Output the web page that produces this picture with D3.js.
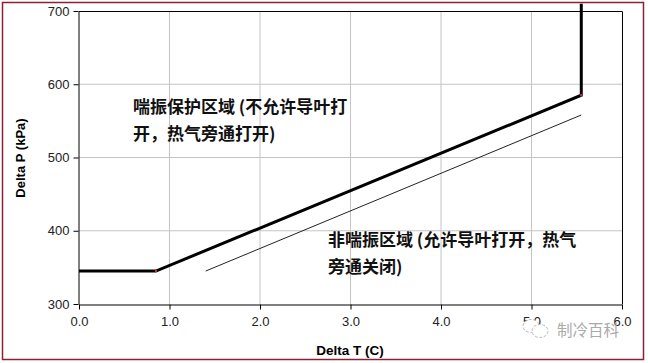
<!DOCTYPE html>
<html>
<head>
<meta charset="utf-8">
<script src="https://cdn.jsdelivr.net/npm/d3@7"></script>
<style>
  body { margin: 0; background: #fff; }
  svg { display: block; }
</style>
</head>
<body>
<svg></svg>
<script>
// surge boundary (thick line) and guide line (thin)
var surgeX = [0, 0.85, 5.55, 5.55];
var surgeY = [345, 345, 585, 710];
var guideX = [1.4, 5.55];
var guideY = [345, 558];
var xTicks = [0, 1, 2, 3, 4, 5, 6];
var yTicks = [300, 400, 500, 600, 700];
var notes = [
    ['喘振保护区域 (不允许导叶打', '开，热气旁通打开)'],
    ['非喘振区域 (允许导叶打开，热气', '旁通关闭)']
];

var svgWidth = 648, svgHeight = 363;
var plotL = 79, plotR = 622, plotT = 11, plotB = 304;

var svg = d3.select('svg')
    .attr('width', svgWidth)
    .attr('height', svgHeight);

// outer frame
svg.append('rect')
    .attr('x', 2.5).attr('y', 2.5)
    .attr('width', 641).attr('height', 357)
    .attr('fill', '#fff')
    .attr('stroke', '#8b2035')
    .attr('stroke-width', 1.5);

var x = d3.scaleLinear().domain([0, 6]).range([plotL, plotR]);
var y = d3.scaleLinear().domain([300, 700]).range([plotB, plotT]);

// grid
svg.append('g').selectAll('line')
    .data(xTicks.slice(1, 6))
    .enter().append('line')
    .attr('x1', function(d) { return x(d); })
    .attr('x2', function(d) { return x(d); })
    .attr('y1', plotT).attr('y2', plotB)
    .attr('stroke', '#c4c4c4');

svg.append('g').selectAll('line')
    .data(yTicks.slice(1, 4))
    .enter().append('line')
    .attr('y1', function(d) { return y(d); })
    .attr('y2', function(d) { return y(d); })
    .attr('x1', plotL).attr('x2', plotR)
    .attr('stroke', '#c4c4c4');

// top and right border
svg.append('path')
    .attr('d', 'M' + plotL + ',' + (plotT + 0.5) + 'H' + (plotR + 0.5) + 'V' + plotB)
    .attr('fill', 'none')
    .attr('stroke', '#000');

var xAxis = svg.append('g')
    .attr('transform', 'translate(0,' + (plotB + 0.5) + ')')
    .call(d3.axisBottom(x).tickValues(xTicks).tickSize(5).tickSizeOuter(0)
        .tickFormat(d3.format('.1f')));

var yAxis = svg.append('g')
    .attr('transform', 'translate(' + (plotL - 0.5) + ',0)')
    .call(d3.axisLeft(y).tickValues(yTicks).tickSize(5).tickSizeOuter(0));

[xAxis, yAxis].forEach(function(g) {
    g.select('.domain').attr('stroke', '#000');
    g.selectAll('.tick line').attr('stroke', '#000');
    g.selectAll('.tick text')
        .attr('fill', '#222')
        .style('font-family', '"Liberation Sans", Arial, sans-serif')
        .style('font-size', '13px');
});
xAxis.selectAll('.tick text').attr('dy', '1.05em');
yAxis.selectAll('.tick text').attr('x', -9);

// axis titles
svg.append('text')
    .attr('x', 350).attr('y', 355)
    .attr('text-anchor', 'middle')
    .style('font-family', '"Liberation Sans", Arial, sans-serif')
    .style('font-size', '13.5px')
    .style('font-weight', 'bold')
    .text('Delta T (C)');

svg.append('text')
    .attr('transform', 'translate(25,158) rotate(-90)')
    .attr('text-anchor', 'middle')
    .style('font-family', '"Liberation Sans", Arial, sans-serif')
    .style('font-size', '13px')
    .style('font-weight', 'bold')
    .text('Delta P (kPa)');

var line = d3.line()
    .x(function(d) { return x(d[0]); })
    .y(function(d) { return y(d[1]); });

svg.append('path')
    .datum(d3.zip(guideX, guideY))
    .attr('d', line)
    .attr('fill', 'none')
    .attr('stroke', '#222')
    .attr('stroke-width', 1);

svg.append('path')
    .datum(d3.zip(surgeX, surgeY))
    .attr('d', line)
    .attr('fill', 'none')
    .attr('stroke', '#000')
    .attr('stroke-width', 3);

svg.selectAll('circle.pt')
    .data(d3.zip(surgeX, surgeY).slice(1, 3))
    .enter().append('circle')
    .attr('class', 'pt')
    .attr('cx', function(d) { return x(d[0]); })
    .attr('cy', function(d) { return y(d[1]); })
    .attr('r', 1.2)
    .attr('fill', '#c0303a');

// region notes
var notePos = [[133, 113], [328, 246]];
notes.forEach(function(lines, i) {
    var t = svg.append('text')
        .attr('x', notePos[i][0]).attr('y', notePos[i][1])
        .style('font-family', '"Noto Sans CJK SC", sans-serif')
        .style('font-size', '17px')
        .style('font-weight', 'bold')
        .attr('fill', '#111');
    lines.forEach(function(s, j) {
        t.append('tspan')
            .attr('x', notePos[i][0])
            .attr('dy', j ? 27 : 0)
            .text(s);
    });
});

// watermark (covers part of the 5.0 label like the original)
var wm = svg.append('g').attr('fill', '#fff').attr('stroke', '#bbb').attr('stroke-width', 1)
    .attr('stroke-dasharray', '3,1.5');
wm.append('ellipse').attr('cx', 531).attr('cy', 326).attr('rx', 8).attr('ry', 6.5);
wm.append('ellipse').attr('cx', 540).attr('cy', 331).attr('rx', 8).attr('ry', 6.5);
svg.append('text')
    .attr('x', 557).attr('y', 336)
    .style('font-family', '"Noto Sans CJK SC", sans-serif')
    .style('font-size', '15.5px')
    .attr('fill', '#aaa')
    .text('制冷百科');
</script>
</body>
</html>
